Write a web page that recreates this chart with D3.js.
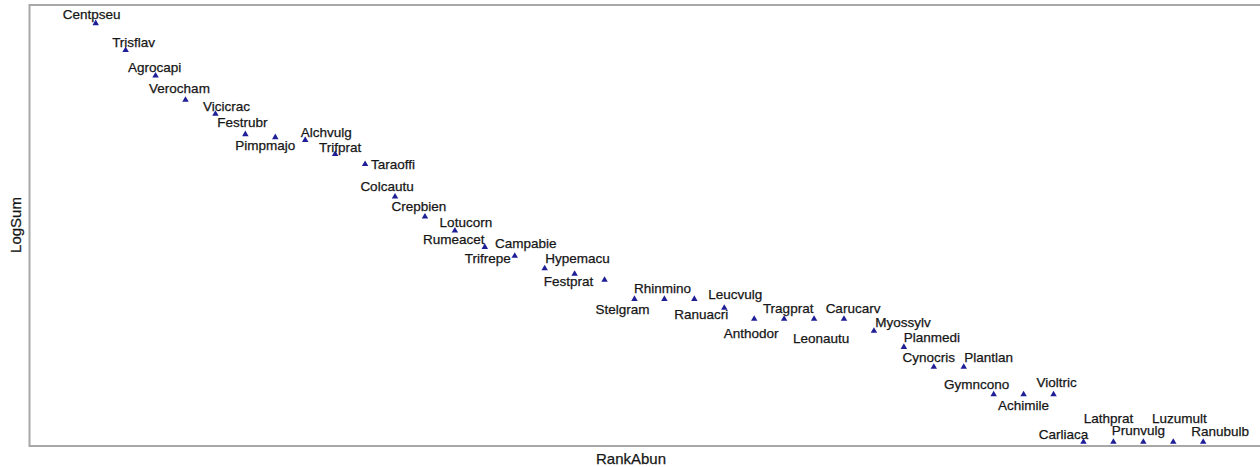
<!DOCTYPE html>
<html>
<head>
<meta charset="utf-8">
<script src="https://cdn.jsdelivr.net/npm/d3@7"></script>
<style>
  html, body { margin: 0; padding: 0; background: #ffffff; }
  svg { display: block; }
  text { font-family: "Liberation Sans", Arial, sans-serif; fill: #161616; stroke: #161616; stroke-width: 0.25px; }
</style>
</head>
<body>
<svg id="chart" width="1260" height="467"></svg>
<script>
// Species in order of rank (most abundant first)
const species = [
  "Centpseu", "Trisflav", "Agrocapi", "Verocham", "Vicicrac", "Festrubr",
  "Pimpmajo", "Alchvulg", "Trifprat", "Taraoffi", "Colcautu", "Crepbien",
  "Lotucorn", "Rumeacet", "Trifrepe", "Campabie", "Hypemacu", "Festprat",
  "Stelgram", "Rhinmino", "Ranuacri", "Leucvulg", "Anthodor", "Tragprat",
  "Leonautu", "Carucarv", "Myossylv", "Planmedi", "Cynocris", "Plantlan",
  "Gymncono", "Achimile", "Violtric", "Carliaca", "Lathprat", "Prunvulg",
  "Luzumult", "Ranubulb"
];

// Rank of each species
const rankAbun = species.map((_, i) => i + 1);

// log10 of summed abundance per species
const logSum = [
  2.633, 2.464, 2.304, 2.151, 2.063, 1.935,
  1.916, 1.899, 1.811, 1.747, 1.543, 1.417,
  1.329, 1.226, 1.170, 1.092, 1.057, 1.019,
  0.899, 0.899, 0.899, 0.843, 0.774, 0.774,
  0.774, 0.774, 0.698, 0.597, 0.472, 0.472,
  0.299, 0.299, 0.299, 0.000, 0.000, 0.000,
  0.000, 0.000
];

// Label placement around each point (pixel nudges from the marker)
const labelNudge = [
  [-4, -9], [8, -8], [-1, -8], [-6, -11], [11, -7], [-3, -12],
  [-10, 8], [21, -8], [5, -7], [28, 0], [-8, -10], [-6, -10],
  [11, -8], [-31, -8], [-27, 3], [-19, -25], [3, -15], [-36, 2],
  [-12, 10], [-2, -11], [7, 15], [11, -13], [-3, 15], [4, -10],
  [7, 20], [9, -10], [29, -9], [28, -10], [-5, -9], [25, -9],
  [-17, -10], [0, 11], [3, -12], [-20, -8], [-5, -24], [-5, -12],
  [6, -24], [17, -11]
];

const frame = { left: 29.5, top: 5, right: 1263, bottom: 446 };

const svg = d3.select("#chart");

const x = d3.scaleLinear().domain([1, 38]).range([95.7, 1203.2]);
const y = d3.scaleLinear().domain([0, 2.633]).range([442, 23.3]);

// Plot frame (right edge runs past the canvas)
svg.append("rect")
  .attr("x", frame.left)
  .attr("y", frame.top)
  .attr("width", frame.right - frame.left)
  .attr("height", frame.bottom - frame.top)
  .attr("fill", "none")
  .attr("stroke", "#a8a8a8")
  .attr("stroke-width", 2);

const data = species.map((name, i) => ({
  name, rank: rankAbun[i], value: logSum[i], nudge: labelNudge[i]
}));

// Triangle markers
const tri = d3.symbol().type(d3.symbolTriangle).size(18);
svg.append("g").selectAll("path")
  .data(data)
  .join("path")
  .attr("d", tri)
  .attr("transform", d => `translate(${x(d.rank)},${y(d.value)})`)
  .attr("fill", "#1e1e96");

// Species labels
svg.append("g").selectAll("text")
  .data(data)
  .join("text")
  .attr("x", d => x(d.rank) + d.nudge[0])
  .attr("y", d => y(d.value) + d.nudge[1])
  .attr("text-anchor", "middle")
  .attr("dominant-baseline", "central")
  .attr("font-size", 13.5)
  .text(d => d.name);

// Axis titles
svg.append("text")
  .attr("x", 631)
  .attr("y", 458)
  .attr("text-anchor", "middle")
  .attr("dominant-baseline", "central")
  .attr("font-size", 15)
  .text("RankAbun");

svg.append("text")
  .attr("transform", "translate(15,225) rotate(-90)")
  .attr("text-anchor", "middle")
  .attr("dominant-baseline", "central")
  .attr("font-size", 15)
  .text("LogSum");
</script>
</body>
</html>
